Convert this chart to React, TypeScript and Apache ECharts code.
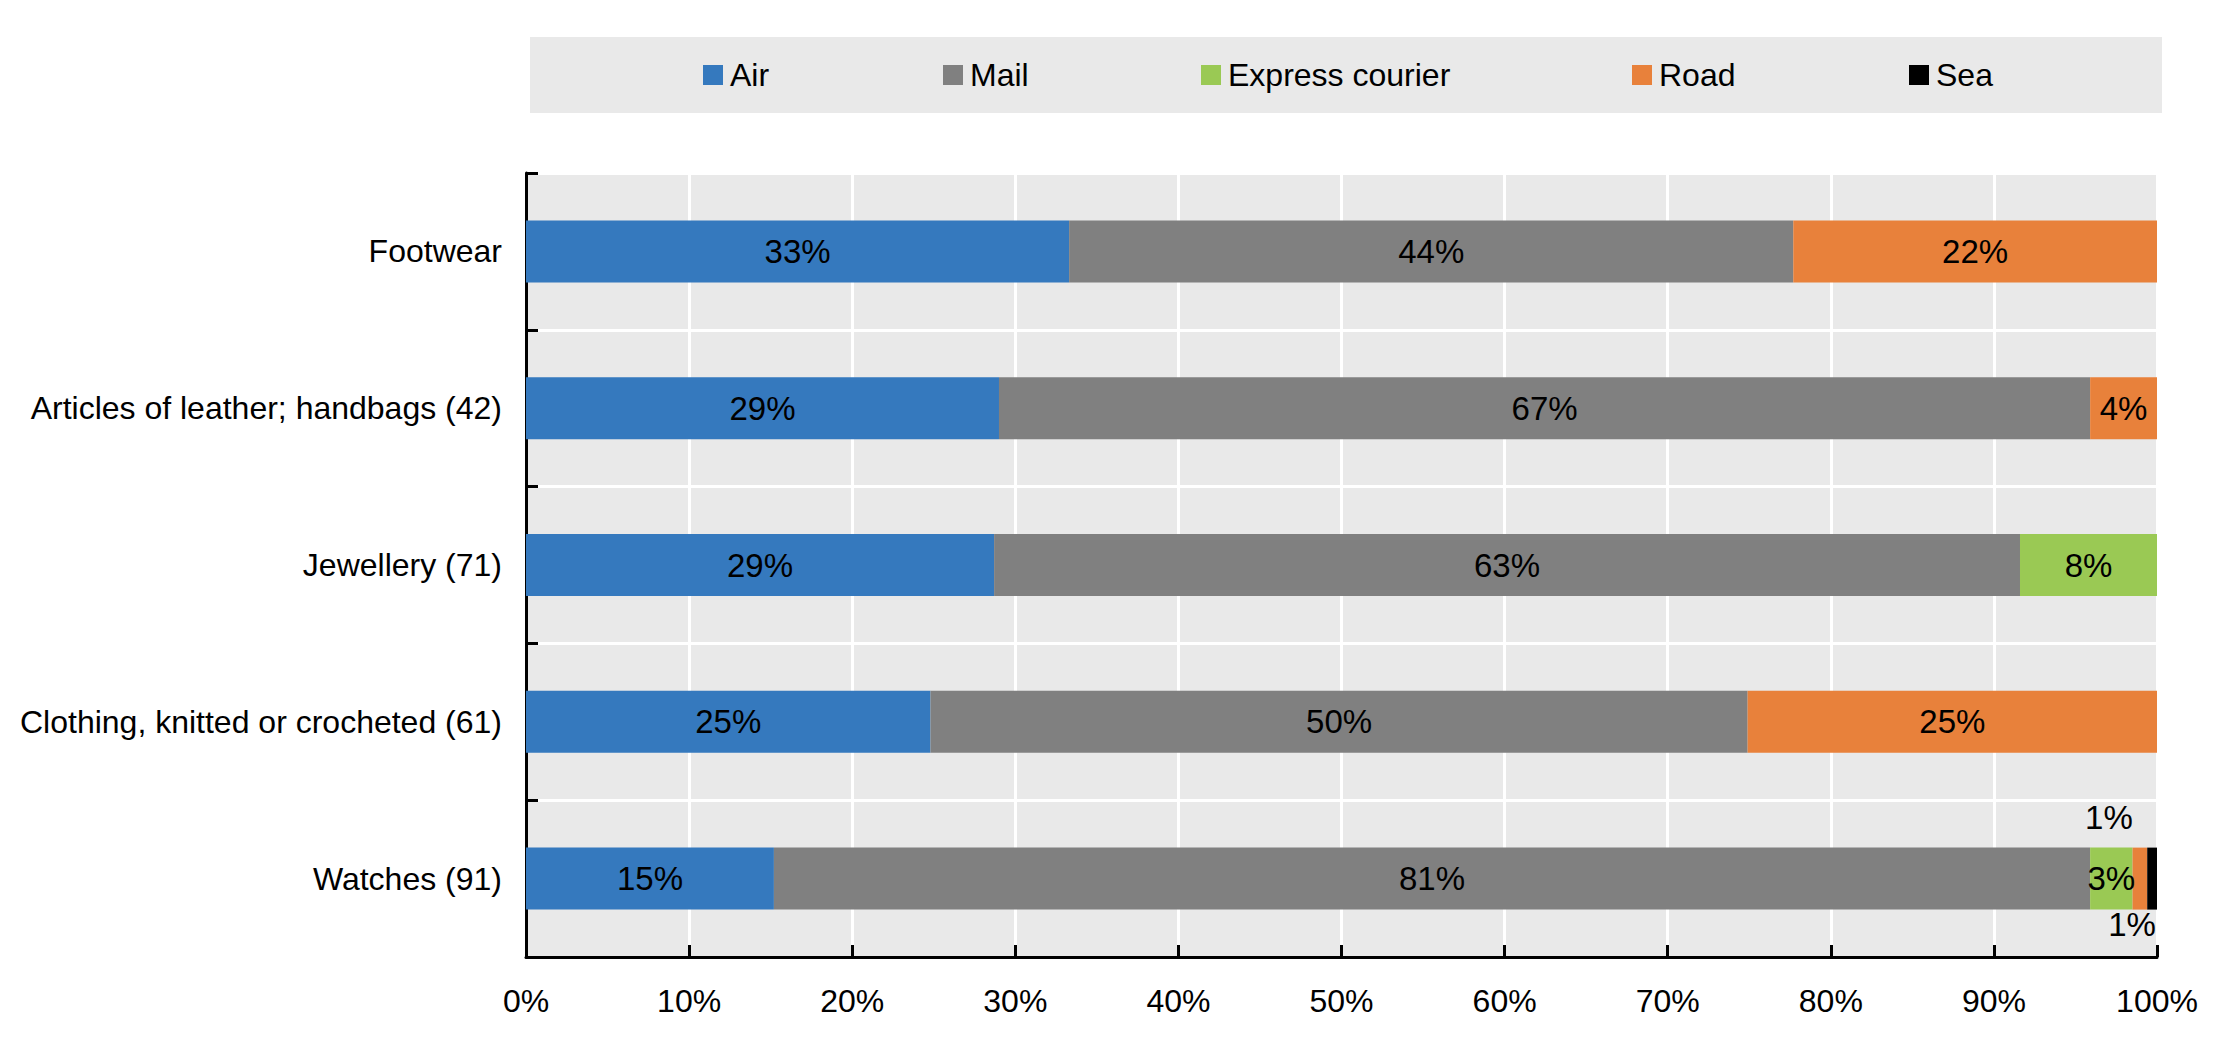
import React, { useEffect, useRef } from "react";
import * as echarts from "echarts";

const categories = [
  "Footwear",
  "Articles of leather; handbags (42)",
  "Jewellery (71)",
  "Clothing, knitted or crocheted (61)",
  "Watches (91)",
];
const seriesNames = ["Air", "Mail", "Express courier", "Road", "Sea"];
const air = [33.3, 29.0, 28.7, 24.8, 15.2];
const mail = [44.4, 66.9, 62.9, 50.1, 80.7];
const express = [0, 0, 8.4, 0, 2.6];
const road = [22.3, 4.1, 0, 25.1, 0.9];
const sea = [0, 0, 0, 0, 0.6];
const colors = ["#3579be", "#808080", "#9ac954", "#e8813b", "#000000"];
const xTicks = [0, 10, 20, 30, 40, 50, 60, 70, 80, 90, 100];
const legendLeft = [703, 943, 1201, 1632, 1909];

const FONT = "'Liberation Sans', Arial, sans-serif";
const FS = 32;

export default function App() {
  const ref = useRef<HTMLDivElement>(null);
  useEffect(() => {
    if (!ref.current) return;
    const chart = echarts.init(ref.current, undefined, { renderer: "svg" });
    const values = [air, mail, express, road, sea];
    const series = seriesNames.map((name, i) => ({
      name,
      type: "bar",
      stack: "total",
      barWidth: 62,
      itemStyle: { color: colors[i] },
      label: {
        show: true,
        position: "inside",
        color: "#000",
        fontFamily: FONT,
        fontSize: 33,
        formatter: (p: any) => (p.value > 0 ? Math.round(p.value) + "%" : ""),
      },
      data: values[i].map((v, j) => {
        if (name === "Road" && j === 4) {
          return { value: v, label: { position: "top", offset: [-31, 0], distance: 14 } };
        }
        if (name === "Sea" && j === 4) {
          return { value: v, label: { position: "bottom", offset: [-20, 0], distance: -2 } };
        }
        return v;
      }),
    }));
    const legends = seriesNames.map((name, i) => ({
      data: [name],
      left: legendLeft[i],
      top: 59,
      padding: 0,
      itemWidth: 20,
      itemHeight: 20,
      itemGap: 0,
      icon: "rect",
      textStyle: { fontFamily: FONT, fontSize: FS, color: "#000", padding: [0, 0, 0, 2] },
      selectedMode: false,
    }));
    chart.setOption({
      animation: false,
      textStyle: { fontFamily: FONT },
      graphic: [
        {
          type: "rect",
          shape: { x: 530, y: 37, width: 1632, height: 76 },
          style: { fill: "#e9e9e9" },
          z: -10,
          silent: true,
        },
      ],
      legend: legends,
      grid: {
        left: 526,
        right: 65,
        top: 173,
        bottom: 98,
        show: true,
        backgroundColor: "#e9e9e9",
        borderWidth: 0,
        containLabel: false,
        outerBoundsMode: "none",
      },
      xAxis: {
        type: "value",
        min: 0,
        max: 100,
        interval: 10,
        axisLabel: {
          formatter: (v: number) => (xTicks.includes(v) ? v + "%" : ""),
          fontFamily: FONT,
          fontSize: FS,
          color: "#000",
          margin: 28,
        },
        axisLine: { show: true, lineStyle: { color: "#000", width: 3 } },
        axisTick: { show: true, inside: true, length: 12, lineStyle: { color: "#000", width: 3 } },
        splitLine: { show: true, lineStyle: { color: "#ffffff", width: 3 } },
      },
      yAxis: {
        type: "category",
        data: categories,
        inverse: true,
        axisLabel: {
          fontFamily: FONT,
          fontSize: FS,
          color: "#000",
          margin: 24,
        },
        axisLine: { show: true, lineStyle: { color: "#000", width: 3 } },
        axisTick: { show: true, inside: true, length: 12, lineStyle: { color: "#000", width: 3 } },
        splitLine: { show: true, lineStyle: { color: "#ffffff", width: 3 } },
      },
      series,
    });
    return () => chart.dispose();
  }, []);
  return <div ref={ref} style={{ width: 2222, height: 1055, margin: -8 }} />;
}
